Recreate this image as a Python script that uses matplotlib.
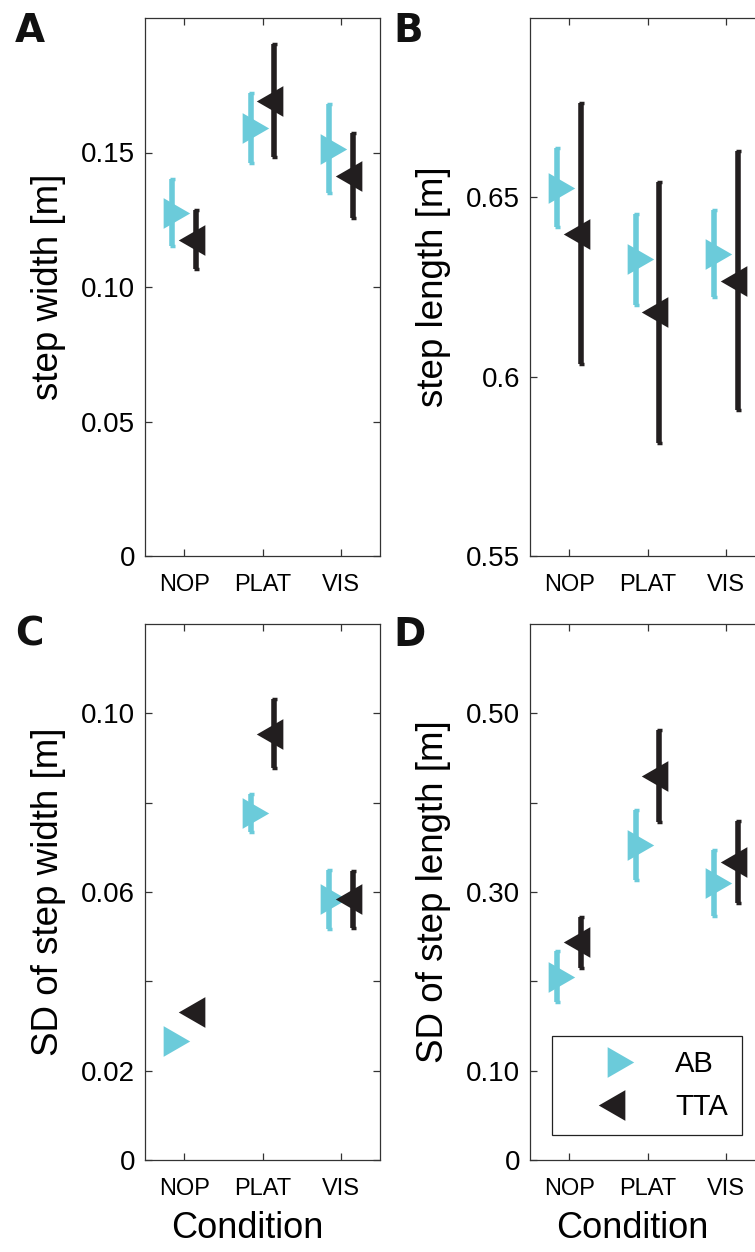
import numpy as np
import matplotlib
matplotlib.use("Agg")
import matplotlib.pyplot as plt

plt.rcParams['font.family'] = ['Liberation Sans', 'DejaVu Sans']

# conditions on the x axis
conditions = ['NOP', 'PLAT', 'VIS']

# step width [m]
ab_width = [0.1276, 0.159, 0.1514]
ab_width_err = [0.0125, 0.013, 0.0166]
tta_width = [0.1176, 0.1692, 0.1414]
tta_width_err = [0.011, 0.021, 0.0157]

# step length [m]
ab_length = [0.6527, 0.6327, 0.6343]
ab_length_err = [0.011, 0.0126, 0.0122]
tta_length = [0.6399, 0.6179, 0.6268]
tta_length_err = [0.0365, 0.0365, 0.0362]

# SD of step width [m]
ab_sdw = [0.0267, 0.0777, 0.0584]
ab_sdw_err = [0.001, 0.0043, 0.0066]
tta_sdw = [0.0332, 0.0954, 0.0584]
tta_sdw_err = [0.001, 0.0077, 0.0064]

# SD of step length [m]
ab_sdl = [0.2054, 0.3525, 0.3098]
ab_sdl_err = [0.028, 0.039, 0.037]
tta_sdl = [0.2439, 0.4294, 0.334]
tta_sdl_err = [0.0285, 0.0515, 0.046]

cyan = '#6BCBDA'
black = '#221E1F'

# triangles centred on their centroid, like MATLAB
s3 = np.sqrt(3)
tri_right = [(-1, -s3), (2, 0), (-1, s3), (-1, -s3)]
tri_left = [(1, -s3), (-2, 0), (1, s3), (1, -s3)]
ms = 25.5
off = 0.15

fig = plt.figure(figsize=(7.55, 12.52), dpi=100)
W, H = 755.0, 1252.0
pos = {
    'A': [145 / W, 1 - 556 / H, 235 / W, 538 / H],
    'B': [530 / W, 1 - 556 / H, 235 / W, 538 / H],
    'C': [145 / W, 1 - 1160 / H, 235 / W, 536 / H],
    'D': [530 / W, 1 - 1160 / H, 235 / W, 536 / H],
}


def panel(key, ab, ab_err, tta, tta_err, ylim, yticks, ylabels, ylabel, xlabel=None):
    ax = fig.add_axes(pos[key])
    x = np.arange(1, len(conditions) + 1)
    ax.errorbar(x - off, ab, yerr=ab_err, fmt='none', ecolor=cyan, elinewidth=4.0,
                capsize=1.8, capthick=2.5, zorder=2)
    ax.plot(x - off, ab, linestyle='none', marker=tri_right, ms=ms, mfc=cyan,
            mec=cyan, mew=0, zorder=3, label='AB')
    ax.errorbar(x + off, tta, yerr=tta_err, fmt='none', ecolor=black, elinewidth=4.0,
                capsize=1.8, capthick=2.5, zorder=4)
    ax.plot(x + off, tta, linestyle='none', marker=tri_left, ms=ms, mfc=black,
            mec=black, mew=0, zorder=5, label='TTA')
    ax.set_xlim(0.5, 3.5)
    ax.set_ylim(*ylim)
    ax.set_xticks(x, conditions)
    ax.set_yticks(yticks, ylabels)
    ax.tick_params(direction='in', top=True, right=True, length=5, width=0.9,
                   color='#333333')
    ax.tick_params(axis='x', labelsize=17, pad=13)
    ax.tick_params(axis='y', labelsize=20, pad=7)
    for sp in ax.spines.values():
        sp.set_linewidth(0.9)
        sp.set_color('#333333')
    ax.set_ylabel(ylabel, fontsize=26.5, labelpad=11)
    if xlabel:
        ax.set_xlabel(xlabel, fontsize=26, labelpad=8)
        ax.xaxis.label.set_x(0.5 - 15 / 235)
    return ax


axA = panel('A', ab_width, ab_width_err, tta_width, tta_width_err, (0, 0.2),
            [0, 0.05, 0.10, 0.15], ['0', '0.05', '0.10', '0.15'], 'step width [m]')

axB = panel('B', ab_length, ab_length_err, tta_length, tta_length_err, (0.55, 0.70),
            [0.55, 0.60, 0.65], ['0.55', '0.6', '0.65'], 'step length [m]')

axC = panel('C', ab_sdw, ab_sdw_err, tta_sdw, tta_sdw_err, (0, 0.12),
            [0, 0.02, 0.04, 0.06, 0.08, 0.10], ['0', '0.02', '', '0.06', '', '0.10'],
            'SD of step width [m]', 'Condition')

axD = panel('D', ab_sdl, ab_sdl_err, tta_sdl, tta_sdl_err, (0, 0.6),
            [0, 0.1, 0.2, 0.3, 0.4, 0.5], ['0', '0.10', '', '0.30', '', '0.50'],
            'SD of step length [m]', 'Condition')

leg = axD.legend(loc='lower left', bbox_to_anchor=(22 / 235, 25 / 536, 190 / 235, 0.2),
                 mode='expand', borderaxespad=0, fontsize=21, handlelength=3.4,
                 handletextpad=0.35, borderpad=0.48, labelspacing=0.5,
                 fancybox=False, framealpha=1, edgecolor='#222222')
leg.get_frame().set_linewidth(0.9)

for letter, (lx, ly) in {'A': (15, 42), 'B': (393, 42), 'C': (15, 646), 'D': (393, 646)}.items():
    fig.text(lx / W, 1 - ly / H, letter, fontsize=28, fontweight='bold', va='baseline',
             ha='left', color='#111111', family='DejaVu Sans')

fig.savefig('out.png', dpi=100)
